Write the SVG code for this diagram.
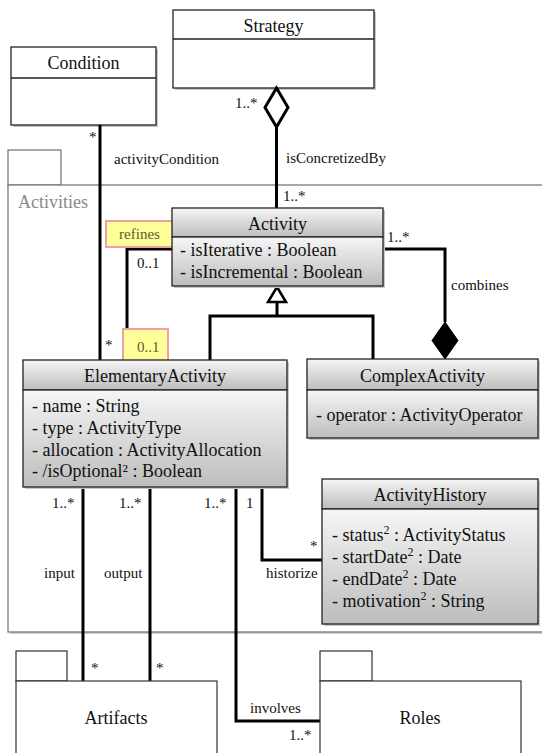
<svg xmlns="http://www.w3.org/2000/svg" width="542" height="753" viewBox="0 0 542 753" font-family="'Liberation Serif', 'DejaVu Serif', 'Times New Roman', serif">
<style>
  text { font-family: "Liberation Serif", "DejaVu Serif", "Times New Roman", serif; fill: #111; }
  .cls { font-size: 18px; text-anchor: middle; }
  .attr { font-size: 18px; }
  .lbl { font-size: 15px; }
  .box { stroke: #222; stroke-width: 1.3; }
  .plain { fill: #fff; stroke: #222; stroke-width: 1.3; }
  .shadow { fill: #c8c8c8; }
  .pkg { fill: #fff; stroke: #7a7a7a; stroke-width: 1.3; }
  .pkgb { fill: #fff; stroke: #333; stroke-width: 1.2; }
  .conn { fill: none; stroke: #000; stroke-width: 3; }
  .hl { fill: #ffff99; stroke: #f0a0a0; stroke-width: 2; }
  .hlt { fill: #5c5c30; }
</style>
<defs>
  <linearGradient id="g" x1="0" y1="0" x2="0" y2="1">
    <stop offset="0" stop-color="#f6f6f6"/>
    <stop offset="1" stop-color="#bdbdbd"/>
  </linearGradient>
</defs>

<!-- Activities package -->
<g id="pkg-activities">
  <rect class="pkg" x="8" y="150" width="53" height="35"/>
  <rect x="10" y="187" width="540" height="447" fill="#d0d0d0"/>
  <rect class="pkg" x="8" y="185" width="540" height="447"/>
  <text x="18" y="208" style="font-size:18px; fill:#8a8a8a">Activities</text>
</g>

<!-- Condition -->
<g id="condition">
  <rect class="shadow" x="13" y="49" width="145" height="78"/>
  <rect class="plain" x="11" y="47" width="145" height="78"/>
  <line x1="11" y1="78" x2="156" y2="78" stroke="#222" stroke-width="1.3"/>
  <text class="cls" x="83.5" y="69">Condition</text>
</g>

<!-- Strategy -->
<g id="strategy">
  <rect class="shadow" x="175" y="12" width="201" height="78"/>
  <rect class="plain" x="173" y="10" width="201" height="78"/>
  <line x1="173" y1="39" x2="374" y2="39" stroke="#222" stroke-width="1.3"/>
  <text class="cls" x="273.5" y="32">Strategy</text>
</g>

<!-- Connectors -->
<g id="connectors">
  <line class="conn" x1="100" y1="125" x2="100" y2="360"/>
  <polygon points="276.5,88 288,107.5 276.5,127 265,107.5" fill="#fff" stroke="#000" stroke-width="3"/>
  <line class="conn" x1="276.5" y1="127" x2="276.5" y2="208"/>
  <polyline class="conn" points="172,249 127,249 127,360"/>
  <polyline class="conn" points="383,249 445,249 445,322"/>
  <polygon points="445,322 458,340.5 445,359 432,340.5" fill="#000" stroke="#000" stroke-width="1"/>
  <polygon points="277,287 286,302 268,302" fill="#fff" stroke="#000" stroke-width="2.5"/>
  <line class="conn" x1="277" y1="302" x2="277" y2="316"/>
  <polyline class="conn" points="210,360 210,316 373,316 373,359"/>
  <line class="conn" x1="83" y1="487" x2="83" y2="681"/>
  <line class="conn" x1="150" y1="487" x2="150" y2="681"/>
  <polyline class="conn" points="236,487 236,721 320,721"/>
  <polyline class="conn" points="262,487 262,560 322,560"/>
</g>

<!-- Connector labels -->
<g id="labels">
  <text class="lbl" x="89" y="142">*</text>
  <text class="lbl" x="114" y="164">activityCondition</text>
  <text class="lbl" x="105" y="350">*</text>
  <text class="lbl" x="235" y="108">1..*</text>
  <text class="lbl" x="286" y="163">isConcretizedBy</text>
  <text class="lbl" x="283" y="201">1..*</text>
  <text class="lbl" x="137" y="268">0..1</text>
  <text class="lbl" x="387" y="242">1..*</text>
  <text class="lbl" x="451" y="290">combines</text>
  <text class="lbl" x="52" y="508">1..*</text>
  <text class="lbl" x="119" y="508">1..*</text>
  <text class="lbl" x="204" y="508">1..*</text>
  <text class="lbl" x="246" y="508">1</text>
  <text class="lbl" x="44" y="578">input</text>
  <text class="lbl" x="104" y="578">output</text>
  <text class="lbl" x="266" y="578">historize</text>
  <text class="lbl" x="310" y="551">*</text>
  <text class="lbl" x="91" y="673">*</text>
  <text class="lbl" x="156" y="673">*</text>
  <text class="lbl" x="250" y="713">involves</text>
  <text class="lbl" x="289" y="740">1..*</text>
</g>

<g id="refines-note">
  <rect class="hl" x="106" y="221" width="67" height="26"/>
  <text class="lbl hlt" x="139.5" y="239" text-anchor="middle">refines</text>
</g>
<g id="multiplicity-note">
  <rect class="hl" x="123" y="329" width="45" height="32"/>
  <text class="lbl hlt" x="137" y="352">0..1</text>
</g>

<g id="activity">
  <rect class="shadow" x="174" y="210" width="211" height="78"/>
  <rect class="box" x="172" y="208" width="211" height="29" fill="url(#g)"/>
  <rect class="box" x="172" y="237" width="211" height="49" fill="url(#g)"/>
  <text class="cls" x="277.5" y="230">Activity</text>
  <text class="attr" x="180" y="256">- isIterative : Boolean</text>
  <text class="attr" x="180" y="278">- isIncremental : Boolean</text>
</g>

<g id="elementary-activity">
  <rect class="shadow" x="25" y="362" width="264" height="127"/>
  <rect class="box" x="23" y="360" width="264" height="30" fill="url(#g)"/>
  <rect class="box" x="23" y="390" width="264" height="97" fill="url(#g)"/>
  <text class="cls" x="155" y="382">ElementaryActivity</text>
  <text class="attr" x="32" y="412">- name : String</text>
  <text class="attr" x="32" y="434">- type : ActivityType</text>
  <text class="attr" x="32" y="456">- allocation : ActivityAllocation</text>
  <text class="attr" x="32" y="477">- /isOptional² : Boolean</text>
</g>

<g id="complex-activity">
  <rect class="shadow" x="309" y="361" width="231" height="79"/>
  <rect class="box" x="307" y="359" width="231" height="31" fill="url(#g)"/>
  <rect class="box" x="307" y="390" width="231" height="48" fill="url(#g)"/>
  <text class="cls" x="422.5" y="382">ComplexActivity</text>
  <text class="attr" x="316" y="421">- operator : ActivityOperator</text>
</g>

<g id="activity-history">
  <rect class="shadow" x="324" y="481" width="216" height="145"/>
  <rect class="box" x="322" y="479" width="216" height="30" fill="url(#g)"/>
  <rect class="box" x="322" y="509" width="216" height="115" fill="url(#g)"/>
  <text class="cls" x="430" y="501">ActivityHistory</text>
  <text class="attr" x="332" y="541">- status<tspan font-size="12" dy="-7">2</tspan><tspan dy="7"> : ActivityStatus</tspan></text>
  <text class="attr" x="332" y="563">- startDate<tspan font-size="12" dy="-7">2</tspan><tspan dy="7"> : Date</tspan></text>
  <text class="attr" x="332" y="585">- endDate<tspan font-size="12" dy="-7">2</tspan><tspan dy="7"> : Date</tspan></text>
  <text class="attr" x="332" y="607">- motivation<tspan font-size="12" dy="-7">2</tspan><tspan dy="7"> : String</tspan></text>
</g>

<g id="pkg-artifacts">
  <rect class="pkgb" x="16" y="651" width="51" height="30"/>
  <rect class="pkgb" x="16" y="681" width="201" height="80"/>
  <text class="cls" x="116" y="724">Artifacts</text>
</g>

<g id="pkg-roles">
  <rect class="pkgb" x="320" y="651" width="52" height="30"/>
  <rect class="pkgb" x="320" y="681" width="201" height="80"/>
  <text class="cls" x="420" y="724">Roles</text>
</g>
</svg>
